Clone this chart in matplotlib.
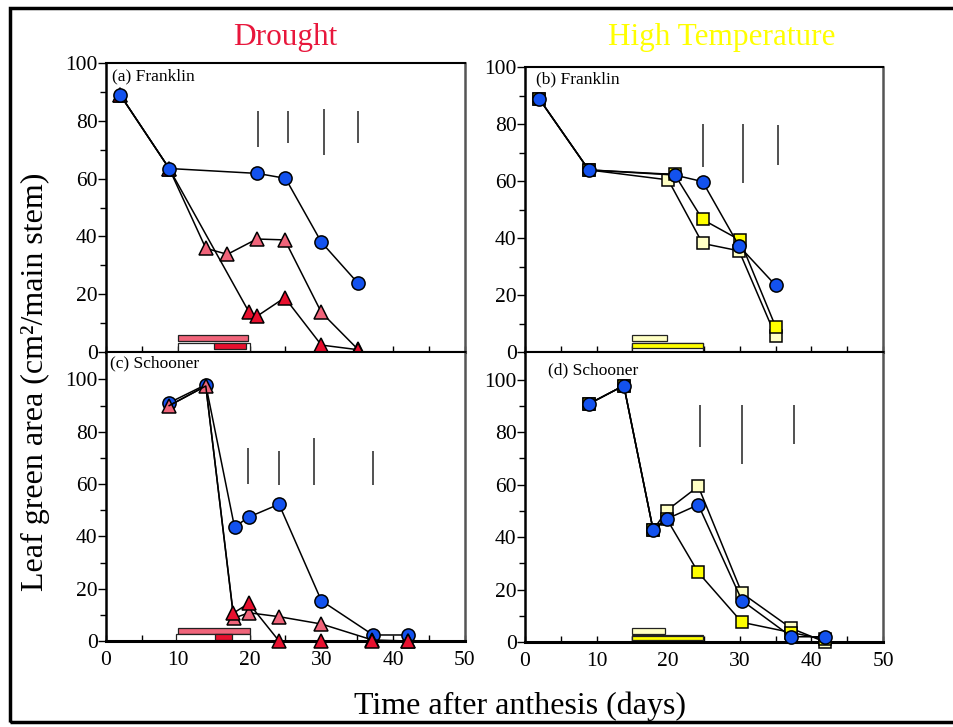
import matplotlib.pyplot as plt
from matplotlib.patches import Rectangle

plt.rcParams['font.family'] = ['Liberation Serif', 'DejaVu Serif']

# ---- data ----
# (a) Franklin, drought: control / moderate / severe
a_ctrl_x = [2.0, 8.8, 21.1, 25.0, 30.0, 35.1]
a_ctrl_y = [88.9, 63.5, 61.8, 60.1, 38.0, 23.8]
a_mod_x = [2.0, 8.8, 13.9, 16.9, 21.0, 24.9, 30.0, 35.1]
a_mod_y = [88.9, 63.5, 35.9, 33.8, 39.1, 38.8, 13.7, 0.9]
a_sev_x = [2.0, 8.8, 19.9, 21.1, 24.9, 30.0, 35.1]
a_sev_y = [88.9, 63.5, 13.9, 12.5, 18.8, 2.4, 0.8]
a_lsd_x = [21.2, 25.3, 30.3, 35.1]
a_lsd_lo = [71.0, 72.2, 68.2, 72.2]
a_lsd_hi = [83.5, 83.5, 84.0, 83.5]
a_per_start = [10.0, 10.0, 15.0]
a_per_end = [19.8, 20.0, 19.5]
a_per_lo = [3.9, 0.0, 1.2]
a_per_hi = [5.8, 3.2, 3.0]

# (b) Franklin, high temperature: control / moderate / severe
b_ctrl_x = [2.0, 8.9, 20.9, 24.8, 29.9, 35.0]
b_ctrl_y = [88.8, 63.9, 62.1, 59.8, 37.2, 23.4]
b_mod_x = [2.0, 8.9, 20.0, 24.8, 29.9, 35.0]
b_mod_y = [88.8, 63.9, 60.4, 38.1, 35.5, 5.6]
b_sev_x = [2.0, 8.9, 20.9, 24.8, 30.0, 35.0]
b_sev_y = [88.8, 63.9, 62.3, 46.5, 39.3, 8.9]
b_lsd_x = [24.9, 30.5, 35.3]
b_lsd_lo = [65.0, 59.2, 65.6]
b_lsd_hi = [80.0, 80.0, 79.6]
b_per_start = [15.0, 15.0, 15.0]
b_per_end = [19.8, 24.8, 24.8]
b_per_lo = [3.9, 0.0, 1.3]
b_per_hi = [5.9, 3.3, 3.1]

# (c) Schooner, drought
c_ctrl_x = [8.8, 13.9, 17.9, 19.9, 24.1, 30.0, 37.2, 42.0]
c_ctrl_y = [91.1, 98.0, 43.6, 47.4, 52.3, 15.4, 2.3, 2.3]
c_mod_x = [8.8, 13.9, 17.8, 19.9, 24.1, 30.0, 37.1, 42.0]
c_mod_y = [90.0, 97.5, 8.7, 10.8, 9.3, 6.5, 0.4, 0.0]
c_sev_x = [8.8, 13.9, 17.7, 19.9, 24.1, 30.0, 37.1, 42.0]
c_sev_y = [90.0, 97.5, 10.6, 14.4, 0.0, 0.0, 0.0, 0.0]
c_lsd_x = [19.8, 24.1, 29.0, 37.2]
c_lsd_lo = [60.2, 59.8, 59.8, 59.8]
c_lsd_hi = [73.8, 72.5, 77.6, 72.5]
c_per_start = [10.0, 9.8, 15.2]
c_per_end = [20.1, 20.0, 17.6]
c_per_lo = [2.7, 0.0, 0.5]
c_per_hi = [5.1, 2.7, 2.5]

# (d) Schooner, high temperature
d_ctrl_x = [8.9, 13.8, 17.9, 19.8, 24.2, 30.3, 37.2, 41.9]
d_ctrl_y = [90.7, 97.7, 42.7, 46.9, 52.3, 15.8, 2.0, 2.0]
d_mod_x = [8.9, 13.8, 17.9, 19.8, 24.2, 30.3, 37.2, 41.9]
d_mod_y = [90.7, 97.7, 42.7, 50.1, 59.3, 18.6, 5.2, 0.0]
d_sev_x = [8.9, 13.8, 17.9, 19.8, 24.2, 30.3, 37.2, 41.9]
d_sev_y = [90.7, 97.7, 42.7, 46.9, 26.5, 7.5, 3.6, 1.0]
d_lsd_x = [24.5, 30.3, 37.5]
d_lsd_lo = [74.2, 67.8, 75.5]
d_lsd_hi = [90.5, 90.5, 90.5]
d_per_start = [15.0, 15.0, 15.0]
d_per_end = [19.5, 24.8, 24.8]
d_per_lo = [3.2, 0.0, 0.8]
d_per_hi = [5.2, 2.6, 2.3]

BLUE = '#1352ee'
PINK = '#f0647a'
RED = '#e8102e'
YEL = '#ffff00'
PALE = '#ffffc4'


def style_axes(ax, ymax, xlabels):
    ax.set_xlim(0, 50)
    ax.set_ylim(0, ymax)
    ax.set_xticks(range(0, 51, 10))
    ax.set_xticks(range(5, 50, 10), minor=True)
    ax.set_yticks(range(0, 101, 20))
    ax.set_yticks(range(10, 100, 20), minor=True)
    ax.tick_params(axis='x', which='both', direction='in', length=4, width=1,
                   labelsize=15.5, pad=7, labelbottom=xlabels)
    ax.tick_params(axis='y', which='major', direction='out', length=6, width=1,
                   labelsize=15.5, pad=0)
    ax.tick_params(axis='y', which='minor', direction='out', length=4, width=1)
    ax.spines['left'].set_linewidth(1.8)
    ax.spines['bottom'].set_linewidth(2.2)
    ax.spines['top'].set_linewidth(1.5)
    ax.spines['right'].set_color('#555555')
    ax.spines['right'].set_linewidth(1.8)


def draw_panel(ax, series, lsd, periods, period_colors, label, label_xy):
    for xs, ys, marker, color, ms, z, every in series:
        ax.plot(xs, ys, color='black', lw=1.1, marker=marker, ms=ms,
                mfc=color, mec='black', mew=1.1, zorder=z, clip_on=False,
                markevery=every)
    lx, lo, hi = lsd
    ax.vlines(lx, lo, hi, color='#333333', lw=1.2)
    start, end, ylo, yhi = periods
    for s, e, y0, y1, c in zip(start, end, ylo, yhi, period_colors):
        ax.add_patch(Rectangle((s, y0), e - s, y1 - y0, facecolor=c,
                               edgecolor='#222222', lw=0.9, zorder=2))
    ax.text(label_xy[0], label_xy[1], label, transform=ax.transAxes,
            fontsize=12.5, va='center', ha='left')


fig = plt.figure(figsize=(9.54, 7.27), dpi=100)

ax_a = fig.add_axes([0.1111, 0.5158, 0.3763, 0.3975])
ax_b = fig.add_axes([0.5503, 0.5158, 0.3753, 0.3920])
ax_c = fig.add_axes([0.1111, 0.1183, 0.3763, 0.3975])
ax_d = fig.add_axes([0.5503, 0.1169, 0.3753, 0.3989])

style_axes(ax_a, 100, False)
style_axes(ax_b, 100, False)
style_axes(ax_c, 110.5, True)
style_axes(ax_d, 110.5, True)

draw_panel(ax_a,
           [(a_mod_x, a_mod_y, '^', PINK, 10, 3, None),
            (a_sev_x, a_sev_y, '^', RED, 10, 4, None),
            (a_ctrl_x, a_ctrl_y, 'o', BLUE, 9.5, 5, None)],
           (a_lsd_x, a_lsd_lo, a_lsd_hi),
           (a_per_start, a_per_end, a_per_lo, a_per_hi),
           [PINK, 'white', RED], '(a) Franklin', (0.018, 0.955))

draw_panel(ax_b,
           [(b_mod_x, b_mod_y, 's', PALE, 9, 3, None),
            (b_sev_x, b_sev_y, 's', YEL, 9, 4, None),
            (b_ctrl_x, b_ctrl_y, 'o', BLUE, 9.5, 5, None)],
           (b_lsd_x, b_lsd_lo, b_lsd_hi),
           (b_per_start, b_per_end, b_per_lo, b_per_hi),
           [PALE, 'white', YEL], '(b) Franklin', (0.03, 0.955))

# in (c) the pink triangles sit on top at the two shared early dates
draw_panel(ax_c,
           [(c_ctrl_x, c_ctrl_y, 'o', BLUE, 9.5, 3, None),
            (c_mod_x, c_mod_y, '^', PINK, 10, 4, None),
            (c_sev_x, c_sev_y, '^', RED, 10, 5, slice(2, None))],
           (c_lsd_x, c_lsd_lo, c_lsd_hi),
           (c_per_start, c_per_end, c_per_lo, c_per_hi),
           [PINK, 'white', RED], '(c) Schooner', (0.012, 0.96))

draw_panel(ax_d,
           [(d_mod_x, d_mod_y, 's', PALE, 9, 3, None),
            (d_sev_x, d_sev_y, 's', YEL, 9, 4, None),
            (d_ctrl_x, d_ctrl_y, 'o', BLUE, 9.5, 5, None)],
           (d_lsd_x, d_lsd_lo, d_lsd_hi),
           (d_per_start, d_per_end, d_per_lo, d_per_hi),
           [PALE, 'white', YEL], '(d) Schooner', (0.065, 0.935))

fig.text(285 / 954, 1 - 38 / 727, 'Drought', color='#e8173c', fontsize=22.5,
         ha='center', va='center')
fig.text(722 / 954, 1 - 38 / 727, 'High Temperature', color='#ffff00',
         fontsize=22.5, ha='center', va='center')
fig.text(35 / 954, 1 - 382 / 727, 'Leaf green area (cm\u00b2/main stem)',
         fontsize=23, rotation=90, ha='center', va='center')
fig.text(520 / 954, 1 - 706 / 727, 'Time after anthesis (days)',
         fontsize=23, ha='center', va='center')

# outer frame round the whole figure
fig.patches.append(Rectangle((10 / 954, 5 / 727), 1.0, 1 - 13 / 727,
                             transform=fig.transFigure, facecolor='none',
                             edgecolor='black', lw=2.5, zorder=11))

fig.savefig('out.png', dpi=100)
